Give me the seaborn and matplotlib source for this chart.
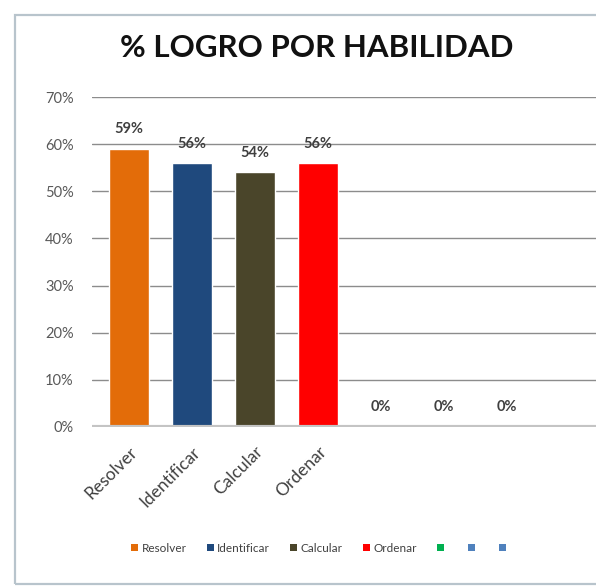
import numpy as np
import pandas as pd
import seaborn as sns
import matplotlib.pyplot as plt
from matplotlib.patches import Patch, Rectangle

# chart data
skills = ["Resolver", "Identificar", "Calcular", "Ordenar", "", "", ""]
logro = [0.59, 0.56, 0.54, 0.56, 0.0, 0.0, 0.0]
bar_colors = ["#E36C09", "#1F497D", "#4A452A", "#FF0000", "#00B050", "#4F81BD", "#4F81BD"]
y_ticks = [0.0, 0.1, 0.2, 0.3, 0.4, 0.5, 0.6, 0.7]


def main():
    sns.set_style("white")
    plt.rcParams['font.family'] = ['Lato', 'DejaVu Sans']

    keys = [f"k{i}" for i in range(len(skills))]
    df = pd.DataFrame({"key": keys, "logro": logro})

    fig = plt.figure(figsize=(5.96, 5.88), dpi=100)
    ax = fig.add_axes([0.154, 0.274, 0.846, 0.561])

    sns.barplot(data=df, x="key", y="logro", hue="key", order=keys,
                palette=dict(zip(keys, bar_colors)), width=0.635,
                legend=False, ax=ax, saturation=1)

    # light frame of the chart area
    fig.patches.append(Rectangle((0.025, 0.006), 1.2, 0.968, transform=fig.transFigure,
                                 fill=False, edgecolor="#b8c4cc", linewidth=1.6))

    ax.set_ylim(0, 0.7)
    ax.set_xlim(-0.59, 7.41)
    ax.set_yticks(y_ticks)
    ax.set_yticklabels([f"{int(round(t * 100))}%" for t in y_ticks])
    for t in y_ticks[1:]:
        ax.axhline(t, color="#8c8c8c", linewidth=1.0, zorder=0)
    ax.axhline(0, color="#c4c4c4", linewidth=3, zorder=3)

    ax.set_xticks(range(len(skills)))
    ax.set_xticklabels(skills, rotation=45, ha="right", rotation_mode="anchor")
    ax.tick_params(axis="x", length=0, pad=12, labelsize=12.5, labelcolor="#404040")
    ax.tick_params(axis="y", length=0, pad=13, labelsize=10.5, labelcolor="#595959")
    ax.set_xlabel("")
    ax.set_ylabel("")
    for s in ax.spines.values():
        s.set_visible(False)

    # value labels above the bars
    for i, v in enumerate(logro):
        ax.annotate(f"{int(round(v * 100))}%", (i, v), xytext=(0, 14),
                    textcoords="offset points", ha="center", va="center",
                    fontsize=10.5, fontweight="bold", color="#404040")

    fig.text(0.532, 0.918, "% LOGRO POR HABILIDAD", ha="center", va="center",
             fontsize=22.5, fontweight="bold", color="#111111")

    handles = [Patch(facecolor=c, edgecolor="none") for c in bar_colors]
    fig.legend(handles, skills, loc="center", bbox_to_anchor=(0.537, 0.068), ncol=7,
               frameon=False, fontsize=8.5, handlelength=0.6, handleheight=0.6,
               handletextpad=0.3, columnspacing=1.7, labelcolor="#404040")

    fig.savefig("out.png", dpi=100)


if __name__ == "__main__":
    main()
